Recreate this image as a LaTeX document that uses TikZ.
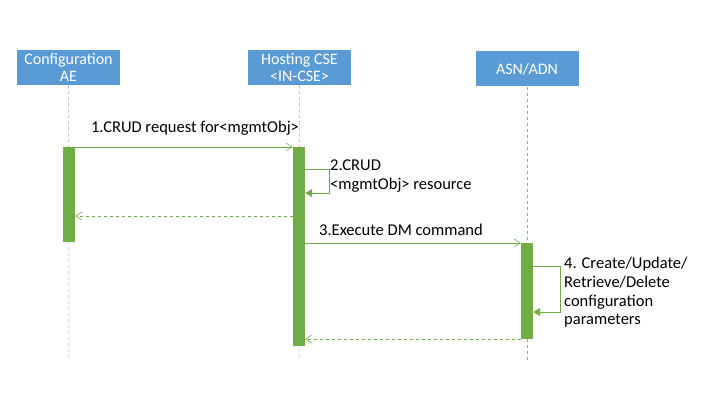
\documentclass[tikz,border=0pt]{standalone}
\usepackage{fontspec}
\setmainfont{Carlito}
\usetikzlibrary{arrows.meta}
\definecolor{hdr}{HTML}{5B9BD5}
\definecolor{grn}{HTML}{70AD47}
\begin{document}
\begin{tikzpicture}[x=1pt,y=-1pt,font=\fontsize{16.5}{18.7}\selectfont,
  head/.style={fill=hdr,text=white,minimum width=103pt,minimum height=35pt,align=center,inner sep=0pt,font=\fontsize{16}{17.5}\selectfont},
  life/.style={draw=hdr!80,dashed,line width=0.5pt},
  bar/.style={fill=grn,draw=none},
  msg/.style={draw=grn,line width=0.6pt,-{Straight Barb[length=6pt,width=8pt]}},
  ret/.style={msg,dashed},
  self/.style={draw=grn,line width=0.6pt,-{Triangle[length=7pt,width=8pt]}},
  lbl/.style={inner sep=0pt,align=left,anchor=north west}]
\useasboundingbox (0,0) rectangle (710,409);
\node[head] (ae) at (68.5,67.5) {Configuration\\AE};
\node[head] (cse) at (299.5,67.5) {Hosting CSE\\<IN-CSE>};
\node[head] (asn) at (527,69) {ASN/ADN};
\coordinate (aeE) at (69,360);
\coordinate (cseE) at (299,360);
\coordinate (asnE) at (527,360);
\draw[life] (ae.south) -- (aeE);
\draw[life] (cse.south) -- (cseE);
\draw[life] (asn.south-|527,0) -- (asnE);
\node[bar,minimum width=12pt,minimum height=95pt,inner sep=0pt] (b1) at (69,194.5) {};
\node[bar,minimum width=12pt,minimum height=199pt,inner sep=0pt] (b2) at (299,246.5) {};
\node[bar,minimum width=12pt,minimum height=96pt,inner sep=0pt] (b3) at (527,291) {};
\draw[msg] (b1.east|-0,147) -- (b2.west|-0,147);
\node[inner sep=0pt] (l1) at (195,128) {1.CRUD request for<mgmtObj>};
\draw[self] (b2.east|-0,169) -- (329,169) -- (329,193) -- (b2.east|-0,193);
\node[lbl] (l2) at (330,160) {2.CRUD\\<mgmtObj> resource};
\draw[ret] (b2.west|-0,216) -- (b1.east|-0,216);
\draw[msg] (b2.east|-0,243) -- (b3.west|-0,243);
\node[lbl] (l3) at (319,224) {3.Execute DM command};
\draw[self] (b3.east|-0,266) -- (560,266) -- (560,312) -- (b3.east|-0,312);
\node[lbl] (l4) at (564,257) {4. Create/Update/\\Retrieve/Delete\\configuration\\parameters};
\draw[ret] (b3.west|-0,339) -- (b2.east|-0,339);
\end{tikzpicture}
\end{document}
